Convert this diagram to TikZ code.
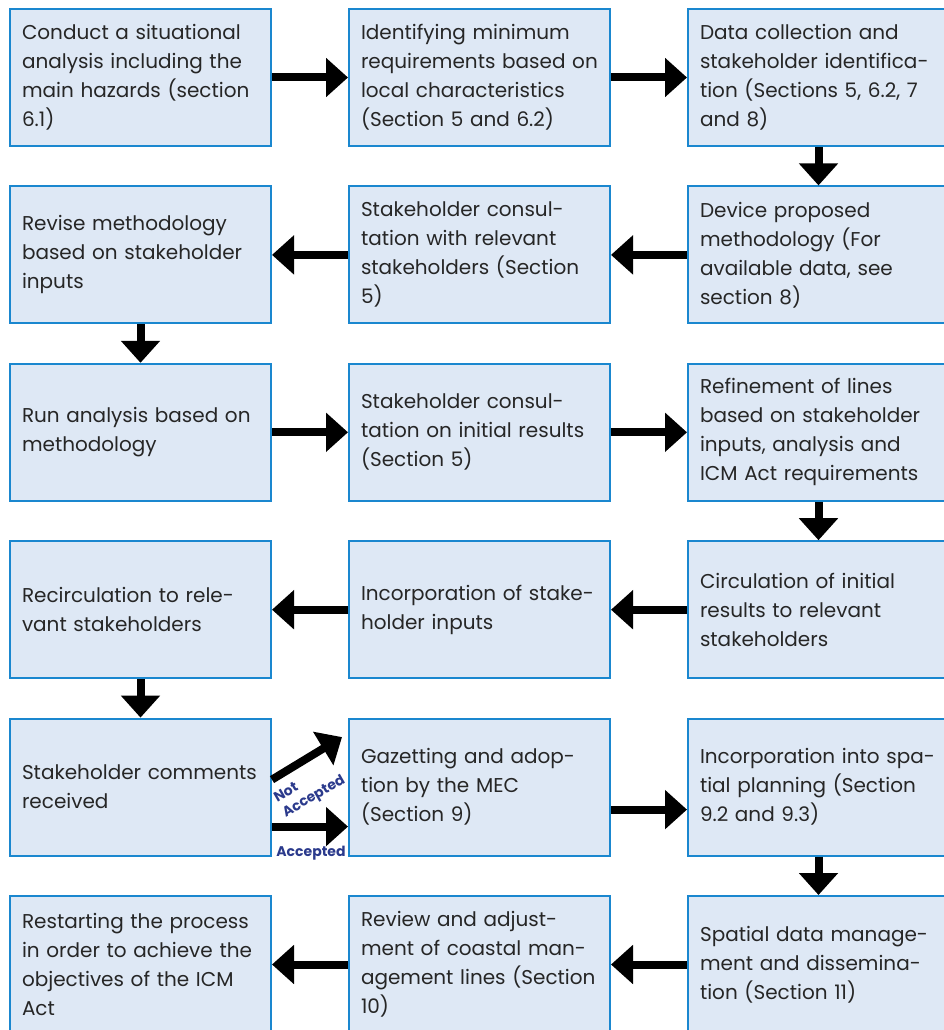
\documentclass[tikz,border=0pt]{standalone}
\usepackage{fontspec}
\setmainfont{Poppins}
\usepackage{xcolor}
\usepackage{tikz}
\usetikzlibrary{arrows.meta}

\definecolor{boxfill}{RGB}{222,232,245}
\definecolor{boxline}{RGB}{26,135,207}
\definecolor{boxtext}{RGB}{38,38,38}
\definecolor{tagblue}{RGB}{43,58,140}

\begin{document}
\begin{tikzpicture}[x=1pt, y=1pt,
    stepbox/.style={rectangle, draw=boxline, line width=2pt, fill=boxfill,
        minimum width=261pt, minimum height=137pt, text width=237pt,
        inner sep=0pt, align=left, text=boxtext,
        font=\fontsize{20}{29}\selectfont},
    flow/.style={line width=8pt, -{Triangle[length=22pt,width=38pt]}},
    tag/.style={inner sep=0pt, text=tagblue, font=\bfseries\fontsize{14}{17}\selectfont}]
    \useasboundingbox (0,0) rectangle (944,-1030);
    \clip (0,0) rectangle (944,-1030);

    % row 1
    \node[stepbox] (conduct) at (140.5,-77.5) {Conduct a situational\\analysis including the\\main hazards (section\\6.1)};
    \node[stepbox] (minreq) at (479.5,-77.5) {Identifying minimum\\requirements based on\\local characteristics\\(Section 5 and 6.2)};
    \node[stepbox] (datacoll) at (818.5,-77.5) {Data collection and\\stakeholder identifica-\\tion (Sections 5, 6.2, 7\\and 8)};

    % row 2
    \node[stepbox] (revise) at (140.5,-254.9) {Revise methodology\\based on stakeholder\\inputs};
    \node[stepbox] (consult) at (479.5,-254.9) {Stakeholder consul-\\tation with relevant\\stakeholders (Section\\5)};
    \node[stepbox] (device) at (818.5,-254.9) {Device proposed\\methodology (For\\available data, see\\section 8)};

    % row 3
    \node[stepbox] (run) at (140.5,-432.3) {Run analysis based on\\methodology};
    \node[stepbox] (initial) at (479.5,-432.3) {Stakeholder consul-\\tation on initial results\\(Section 5)};
    \node[stepbox] (refine) at (818.5,-432.3) {Refinement of lines\\based on stakeholder\\inputs, analysis and\\ICM Act requirements};

    % row 4
    \node[stepbox] (recirc) at (140.5,-609.7) {Recirculation to rele-\\vant stakeholders};
    \node[stepbox] (incorp) at (479.5,-609.7) {Incorporation of stake-\\holder inputs};
    \node[stepbox] (circ) at (818.5,-609.7) {Circulation of initial\\results to relevant\\stakeholders};

    % row 5
    \node[stepbox] (comments) at (140.5,-787.1) {Stakeholder comments\\received};
    \node[stepbox] (gazette) at (479.5,-787.1) {Gazetting and adop-\\tion by the MEC\\(Section 9)};
    \node[stepbox] (spatial) at (818.5,-787.1) {Incorporation into spa-\\tial planning (Section\\9.2 and 9.3)};

    % row 6
    \node[stepbox] (restart) at (140.5,-964.5) {Restarting the process\\in order to achieve the\\objectives of the ICM\\Act};
    \node[stepbox] (review) at (479.5,-964.5) {Review and adjust-\\ment of coastal man-\\agement lines (Section\\10)};
    \node[stepbox] (dissem) at (818.5,-964.5) {Spatial data manage-\\ment and dissemina-\\tion (Section 11)};

    \draw[flow] (conduct) -- (minreq);
    \draw[flow] (minreq) -- (datacoll);
    \draw[flow] (datacoll) -- (device);
    \draw[flow] (device) -- (consult);
    \draw[flow] (consult) -- (revise);
    \draw[flow] (revise) -- (run);
    \draw[flow] (run) -- (initial);
    \draw[flow] (initial) -- (refine);
    \draw[flow] (refine) -- (circ);
    \draw[flow] (circ) -- (incorp);
    \draw[flow] (incorp) -- (recirc);
    \draw[flow] (recirc) -- (comments);

    \coordinate (notacc) at ([shift={(-6,50)}]gazette.west);
    \draw[flow] ([yshift=7.5]comments.east) -- (notacc);
    \draw[flow] ([yshift=-39.5]comments.east) -- ([yshift=-39.5]gazette.west);
    \node[tag, rotate=30, align=left] (nottag) at (310,-790) {Not\\Accepted};
    \node[tag] (acctag) at (311,-853) {Accepted};

    \draw[flow] ([yshift=-22.5]gazette.east) -- ([yshift=-22.5]spatial.west);
    \draw[flow] (spatial) -- (dissem);
    \draw[flow] (dissem) -- (review);
    \draw[flow] (review) -- (restart);
\end{tikzpicture}
\end{document}
